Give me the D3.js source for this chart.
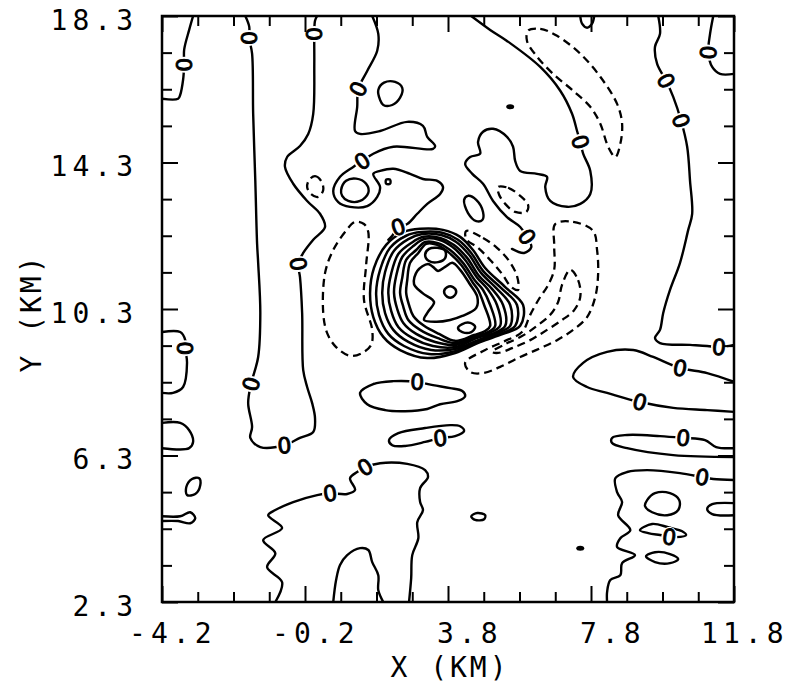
<!DOCTYPE html>
<html lang="en">
<head>
<meta charset="UTF-8">
<title>Contour X-Y</title>
<script src="https://cdn.jsdelivr.net/npm/d3@7/dist/d3.min.js"></script>
<style>
  body { margin: 0; background: #fff; }
  .tick text { font-family: "DejaVu Sans Mono", monospace; font-size: 28px; letter-spacing: 5px; fill: #000; }
  .title { font-family: "DejaVu Sans Mono", monospace; font-size: 28px; letter-spacing: 3px; }
  .zero { font-family: "DejaVu Sans", sans-serif; font-size: 22px; }
</style>
</head>
<body>
<script>
// axis ticks (km)
var xTicks = [-4.2,-3.2,-2.2,-1.2,-0.2,0.8,1.8,2.8,3.8,4.8,5.8,6.8,7.8,8.8,9.8,10.8,11.8];
var yTicks = [2.3,3.3,4.3,5.3,6.3,7.3,8.3,9.3,10.3,11.3,12.3,13.3,14.3,15.3,16.3,17.3,18.3];
var xLabels = [-4.2,-0.2,3.8,7.8,11.8];
var yLabels = [2.3,6.3,10.3,14.3,18.3];

// solid open contours, [x km, y km]
var contourA = [[-3.33,18.3],[-3.44,17.92],[-3.58,17.38],[-3.58,16.97],[-3.61,16.56],[-3.69,16.15],[-3.75,16.04],[-4.2,16.04]];
var contourB = [[-1.87,18.3],[-1.76,18.01],[-1.76,17.70],[-1.68,17.27],[-1.65,15.63],[-1.59,13.80],[-1.54,12.08],[-1.51,11.56],[-1.45,10.19],[-1.51,8.99],[-1.71,8.25],[-1.79,7.73],[-1.68,7.08],[-1.73,6.78],[-1.45,6.53],[-0.78,6.58],[-0.34,6.78],[0.03,6.94],[0.08,7.32],[0.0,7.73],[-0.14,8.17],[-0.25,8.63],[-0.28,10.19],[-0.34,11.17],[-0.39,11.53],[-0.25,11.83],[0.03,12.19],[0.36,12.54],[0.22,12.90],[-0.14,13.25],[-0.53,13.72],[-0.76,14.18],[-0.70,14.45],[-0.34,14.75],[-0.11,15.08],[0.03,15.63],[0.06,16.99],[0.06,17.81],[0.08,18.17],[0.14,18.3]];
var contourC = [[1.68,18.3],[1.85,17.81],[1.82,17.35],[1.54,16.80],[1.29,16.31],[1.26,15.82],[1.20,15.16],[1.34,15.08],[1.90,15.16],[2.66,15.41],[3.10,15.30],[3.22,15.00],[3.44,14.75],[3.38,14.67],[2.27,14.73],[1.71,14.54],[1.40,14.34],[1.15,14.18],[0.78,13.91],[0.59,13.52],[0.73,13.22],[1.06,13.09],[1.54,13.11],[1.82,13.36],[1.90,13.63],[1.71,13.99],[1.90,14.07],[2.27,14.13],[2.74,13.99],[3.10,13.85],[3.50,13.80],[3.66,13.63],[3.58,13.44],[3.22,13.17],[2.94,12.90],[2.66,12.62],[2.41,12.54],[2.24,12.30],[2.13,12.19]];
var contourD = [[4.45,18.3],[4.98,17.92],[5.45,17.62],[6.38,16.91],[6.94,16.26],[7.27,15.63],[7.41,15.16],[7.50,14.86],[7.58,14.54],[7.78,14.07],[7.78,13.44],[7.50,13.17],[7.13,13.09],[6.66,13.25],[6.52,13.63],[6.57,13.91],[6.29,13.99],[5.82,14.07],[5.68,14.34],[5.62,14.73],[5.45,15.00],[5.06,15.22],[4.78,15.14],[4.64,14.86],[4.70,14.54],[4.42,14.45],[4.28,14.26],[4.48,13.99],[4.78,13.72],[5.06,13.25],[5.45,12.81],[5.82,12.54],[6.01,12.27],[6.13,11.99],[5.93,11.83],[5.59,11.94]];
var contourE = [[9.68,18.3],[9.73,17.81],[9.59,17.46],[9.65,16.99],[9.90,16.53],[10.10,16.09],[10.32,15.44],[10.49,14.73],[10.57,13.80],[10.63,12.90],[10.52,12.46],[10.29,11.56],[10.01,10.82],[9.82,10.19],[9.73,9.73],[9.59,9.51],[9.73,9.37],[10.57,9.32],[11.05,9.29],[11.38,9.26],[11.8,9.32]];
var contourF = [[11.22,18.3],[11.13,17.81],[11.08,17.30],[11.19,16.91],[11.41,16.72],[11.8,16.72]];
var contourU = [[7.50,18.3],[7.55,18.09],[7.69,17.98],[7.83,18.09],[7.89,18.3]];
var contourI = [[-1.03,2.3],[-0.84,2.84],[-1.26,3.25],[-1.03,3.63],[-1.37,3.99],[-0.84,4.32],[-1.23,4.67],[-1.03,4.81],[-0.53,5.03],[0.14,5.22],[0.50,5.27],[0.98,5.25],[1.20,5.36],[1.06,5.68],[1.26,5.85],[1.48,5.98],[1.90,6.09],[2.66,6.07],[3.16,5.90],[3.24,5.71],[3.02,5.41],[3.02,5.03],[3.10,4.81],[2.94,4.48],[2.97,4.04],[2.80,3.58],[2.77,2.95],[2.71,2.3]];
var contourJ = [[0.59,2.3],[0.67,2.90],[0.78,3.31],[0.98,3.58],[1.34,3.77],[1.57,3.72],[1.68,3.39],[1.85,3.03],[1.85,2.62],[1.99,2.3]];
var contourL0 = [[-4.2,9.67],[-3.69,9.67],[-3.55,9.45],[-3.55,9.23],[-3.50,8.83],[-3.61,8.17],[-3.89,8.01],[-4.2,8.01]];
var contourL1 = [[-4.2,7.19],[-3.69,7.19],[-3.44,6.99],[-3.33,6.67],[-3.44,6.50],[-4.2,6.50]];
var contourL3 = [[-4.2,4.64],[-3.69,4.64],[-3.41,4.75],[-3.27,4.59],[-3.41,4.45],[-3.75,4.51],[-4.2,4.51]];
var contourM = [[11.8,8.31],[11.05,8.55],[10.29,8.69],[9.54,8.99],[8.98,9.18],[8.25,9.13],[7.58,8.83],[7.30,8.44],[7.69,8.17],[8.25,8.01],[9.17,7.76],[10.10,7.60],[11.05,7.54],[11.8,7.49]];
var contourN = [[11.8,6.50],[11.30,6.53],[10.99,6.72],[10.38,6.78],[9.73,6.83],[8.81,6.86],[8.39,6.78],[8.39,6.64],[8.81,6.50],[10.10,6.31],[11.8,6.26]];
var contourO = [[11.8,5.63],[11.22,5.66],[10.91,5.71],[10.29,5.82],[9.37,5.90],[8.81,5.85],[8.48,5.68],[8.53,5.30],[8.67,5.03],[8.56,4.67],[8.90,4.26],[8.62,4.04],[8.53,3.80],[9.03,3.58],[8.67,3.36],[8.62,3.03],[8.34,2.90],[8.25,2.57],[8.25,2.3]];
var contourP2 = [[11.8,5.00],[11.19,4.97],[11.05,4.84],[11.19,4.70],[11.8,4.67]];

// solid closed contours
var loopC1 = [[1.90,16.01],[1.85,16.28],[2.01,16.48],[2.32,16.50],[2.52,16.34],[2.46,16.07],[2.24,15.87],[1.99,15.87]];
var loopC2 = [[0.81,13.55],[0.95,13.80],[1.23,13.86],[1.51,13.72],[1.57,13.47],[1.34,13.25],[1.01,13.25],[0.84,13.39]];
var loopSq = [[2.07,13.83],[2.18,13.83],[2.18,13.72],[2.07,13.72]];
var loopD1 = [[4.25,13.28],[4.36,13.39],[4.59,13.28],[4.78,12.95],[4.76,12.73],[4.59,12.70],[4.36,12.92]];
var loopG = [[1.34,8.01],[1.71,8.25],[2.27,8.33],[2.94,8.31],[3.38,8.22],[3.86,8.14],[4.20,8.06],[4.28,7.92],[4.08,7.79],[3.58,7.70],[3.22,7.57],[2.60,7.51],[2.04,7.54],[1.54,7.70]];
var loopH = [[2.15,6.72],[2.41,6.91],[3.16,7.05],[3.86,7.13],[4.14,7.10],[4.25,6.97],[4.00,6.83],[3.58,6.78],[3.16,6.67],[2.60,6.56],[2.24,6.58]];
var loopL2 = [[-3.50,5.22],[-3.52,5.44],[-3.36,5.66],[-3.16,5.68],[-3.13,5.49],[-3.27,5.25]];
var loopP1 = [[9.37,5.08],[9.59,5.27],[10.01,5.27],[10.27,5.08],[10.24,4.81],[9.93,4.67],[9.51,4.75],[9.31,4.92]];
var loopP3 = [[9.17,4.26],[9.51,4.43],[9.96,4.34],[10.35,4.23],[10.46,4.13],[10.18,4.07],[9.73,4.13],[9.40,4.18]];
var loopP4 = [[9.34,3.55],[9.59,3.66],[10.01,3.61],[10.24,3.47],[10.01,3.36],[9.59,3.39]];
var loopS1 = [[4.45,4.64],[4.62,4.73],[4.84,4.67],[4.81,4.56],[4.56,4.54]];

// vortex rings, outer to inner
var vortexRings = [
  [[3.02,12.49],[2.55,12.40],[2.07,12.05],[1.73,11.42],[1.62,10.74],[1.71,10.08],[1.99,9.54],[2.46,9.18],[3.22,8.96],[4.00,9.10],[4.70,9.40],[5.34,9.62],[5.82,9.84],[5.90,10.41],[5.40,10.90],[4.84,11.42],[4.50,11.91],[4.14,12.27],[3.66,12.46]],
  [[3.05,12.40],[2.63,12.30],[2.18,11.97],[1.90,11.37],[1.79,10.74],[1.87,10.14],[2.13,9.62],[2.57,9.29],[3.27,9.07],[4.00,9.15],[4.67,9.43],[5.26,9.62],[5.68,9.84],[5.73,10.41],[5.29,10.87],[4.78,11.34],[4.45,11.83],[4.08,12.19],[3.64,12.38]],
  [[3.08,12.35],[2.69,12.21],[2.29,11.89],[2.04,11.31],[1.96,10.74],[2.04,10.19],[2.27,9.73],[2.69,9.40],[3.33,9.18],[4.00,9.21],[4.64,9.45],[5.17,9.64],[5.54,9.84],[5.54,10.41],[5.15,10.87],[4.73,11.28],[4.39,11.78],[4.03,12.13],[3.61,12.32]],
  [[3.11,12.27],[2.77,12.10],[2.41,11.80],[2.21,11.26],[2.13,10.74],[2.21,10.25],[2.41,9.81],[2.80,9.51],[3.38,9.29],[4.00,9.26],[4.62,9.51],[5.09,9.64],[5.40,9.84],[5.34,10.41],[5.03,10.85],[4.67,11.20],[4.34,11.69],[3.97,12.05],[3.58,12.24]],
  [[3.13,12.21],[2.83,12.02],[2.52,11.72],[2.35,11.20],[2.29,10.74],[2.38,10.30],[2.55,9.92],[2.91,9.62],[3.44,9.40],[4.00,9.32],[4.59,9.54],[5.01,9.67],[5.26,9.84],[5.17,10.41],[4.90,10.85],[4.62,11.15],[4.28,11.64],[3.92,12.00],[3.55,12.19]],
  [[3.16,12.13],[2.91,11.91],[2.63,11.64],[2.52,11.15],[2.46,10.74],[2.55,10.36],[2.69,10.00],[3.02,9.73],[3.50,9.51],[4.00,9.37],[4.56,9.56],[4.92,9.67],[5.12,9.84],[4.98,10.41],[4.78,10.82],[4.56,11.07],[4.22,11.56],[3.86,11.91],[3.52,12.10]],
  [[3.19,12.08],[2.97,11.83],[2.74,11.56],[2.66,11.09],[2.63,10.74],[2.71,10.41],[2.83,10.11],[3.13,9.84],[3.55,9.62],[4.00,9.43],[4.53,9.59],[4.84,9.70],[4.98,9.84],[4.81,10.41],[4.64,10.82],[4.50,11.01],[4.17,11.50],[3.80,11.86],[3.50,12.05]],
  [[3.24,11.53],[2.94,11.34],[2.85,10.98],[3.08,10.74],[3.41,10.49],[3.24,10.22],[3.13,10.00],[3.47,9.95],[3.86,10.00],[4.20,10.11],[4.59,10.33],[4.62,10.63],[4.39,11.01],[4.14,11.37],[3.92,11.56],[3.72,11.45],[3.52,11.34],[3.38,11.45]]
];
var vortexCells = [
  [[3.16,11.78],[3.27,11.94],[3.50,11.97],[3.72,11.89],[3.72,11.69],[3.52,11.58],[3.27,11.61]],
  [[3.69,10.77],[3.78,10.90],[3.94,10.90],[4.03,10.77],[3.94,10.63],[3.78,10.63]],
  [[4.08,9.78],[4.20,9.89],[4.42,9.92],[4.56,9.81],[4.45,9.67],[4.20,9.67]]
];

// dashed (negative) closed contours
var dashLeft = [[1.20,12.68],[0.92,12.40],[0.59,11.91],[0.36,11.28],[0.31,10.19],[0.42,9.64],[0.67,9.26],[1.06,9.02],[1.40,9.10],[1.65,9.32],[1.68,9.73],[1.45,10.55],[1.51,11.50],[1.57,12.40],[1.45,12.62]];
var dashBanana = [[6.04,17.90],[6.38,17.95],[6.85,17.76],[7.50,17.27],[8.06,16.64],[8.53,15.90],[8.67,15.36],[8.62,14.81],[8.48,14.45],[8.28,14.73],[8.06,15.36],[7.78,15.82],[7.30,16.26],[6.74,16.72],[6.29,17.19],[6.01,17.62]];
var dashTiny = [[-0.08,13.83],[0.08,13.93],[0.25,13.80],[0.31,13.55],[0.17,13.36],[-0.03,13.44],[-0.14,13.63]];
var dashDrop = [[5.20,13.63],[5.48,13.61],[5.82,13.39],[6.04,13.14],[5.99,12.95],[5.68,12.95],[5.40,13.17],[5.23,13.42]];
var dashOuter = [[6.80,12.62],[7.30,12.68],[7.86,12.43],[7.97,11.91],[8.00,11.28],[7.92,10.63],[7.69,10.08],[7.30,9.73],[6.85,9.45],[6.38,9.23],[5.82,8.99],[5.26,8.72],[4.78,8.55],[4.42,8.58],[4.28,8.83],[4.84,9.18],[5.40,9.43],[5.87,9.67],[6.10,10.14],[6.38,10.63],[6.57,10.90],[6.77,11.37],[6.77,12.05]];
var dashInner = [[7.22,11.37],[7.44,11.09],[7.50,10.63],[7.33,10.27],[6.99,10.00],[6.57,9.73],[6.10,9.45],[5.59,9.23],[5.20,9.10],[5.03,9.13],[5.40,9.34],[5.87,9.56],[6.29,9.84],[6.66,10.14],[6.88,10.49],[6.99,10.96]];
var dashBand = [[4.31,12.43],[4.78,12.24],[5.17,11.97],[5.51,11.61],[5.73,11.20],[5.76,10.82],[5.57,10.90],[5.31,11.26],[4.98,11.64],[4.64,11.97],[4.31,12.21]];

var dots = [[5.54,15.82],[7.50,3.77]];

// "0" contour labels
var zeroLabels = [[-3.58,16.97],[-1.76,17.70],[-1.71,8.25],[-0.78,6.58],[-0.39,11.53],[0.06,17.81],
  [1.29,16.31],[1.40,14.34],[2.41,12.54],[7.50,14.86],[6.01,12.27],[9.90,16.53],[10.32,15.44],
  [11.38,9.26],[11.08,17.30],[-3.55,9.23],[2.94,8.31],[3.58,6.78],[0.50,5.27],[1.48,5.98],
  [10.29,8.69],[9.17,7.76],[10.38,6.78],[10.91,5.71],[9.99,4.08]];

var width = 791, height = 687;
var x = d3.scaleLinear().domain([-4.2, 11.8]).range([162, 734]);
var y = d3.scaleLinear().domain([2.3, 18.3]).range([602, 16]);

var svg = d3.select('body').append('svg')
  .attr('width', width).attr('height', height);

svg.append('clipPath').attr('id', 'plot')
  .append('rect').attr('x', 162).attr('y', 16).attr('width', 572).attr('height', 586);

var openLine = d3.line().x(function(d) { return x(d[0]); }).y(function(d) { return y(d[1]); })
  .curve(d3.curveCatmullRom.alpha(0.5));
var closedLine = d3.line().x(function(d) { return x(d[0]); }).y(function(d) { return y(d[1]); })
  .curve(d3.curveCatmullRomClosed.alpha(0.5));

var solidOpen = [contourA, contourB, contourC, contourD, contourE, contourF, contourU, contourI, contourJ,
  contourL0, contourL1, contourL3, contourM, contourN, contourO, contourP2];
var solidClosed = [loopC1, loopC2, loopSq, loopD1, loopG, loopH, loopL2, loopP1, loopP3, loopP4, loopS1];
var dashed = [dashLeft, dashBanana, dashTiny, dashDrop, dashOuter, dashInner, dashBand];

var g = svg.append('g').attr('clip-path', 'url(#plot)')
  .attr('fill', 'none').attr('stroke', '#000').attr('stroke-linejoin', 'round').attr('stroke-linecap', 'round');

g.selectAll('path.open').data(solidOpen).enter().append('path')
  .attr('class', 'open').attr('stroke-width', 2.4).attr('d', openLine);
g.selectAll('path.loop').data(solidClosed).enter().append('path')
  .attr('class', 'loop').attr('stroke-width', 2.4).attr('d', closedLine);
g.selectAll('path.ring').data(vortexRings.concat(vortexCells)).enter().append('path')
  .attr('class', 'ring').attr('stroke-width', 2.5).attr('d', closedLine);
g.selectAll('path.neg').data(dashed).enter().append('path')
  .attr('class', 'neg').attr('stroke-width', 2.3).attr('stroke-dasharray', '8,5')
  .attr('stroke-linecap', 'butt').attr('d', closedLine);

g.selectAll('ellipse.dot').data(dots).enter().append('ellipse')
  .attr('class', 'dot').attr('fill', '#000').attr('stroke', 'none')
  .attr('cx', function(d) { return x(d[0]); }).attr('cy', function(d) { return y(d[1]); })
  .attr('rx', 4).attr('ry', 2.5);

// label angle taken from the nearest solid contour segment
var allSolid = solidOpen.concat(solidClosed);
function labelAngle(p) {
  var px = x(p[0]), py = y(p[1]), best = Infinity, ang = 0;
  allSolid.forEach(function(line) {
    for (var i = 0; i < line.length - 1; i++) {
      var ax = x(line[i][0]), ay = y(line[i][1]), bx = x(line[i+1][0]), by = y(line[i+1][1]);
      var dx = bx - ax, dy = by - ay, l2 = dx*dx + dy*dy || 1;
      var t = Math.max(0, Math.min(1, ((px-ax)*dx + (py-ay)*dy) / l2));
      var ex = ax + t*dx - px, ey = ay + t*dy - py, dd = ex*ex + ey*ey;
      if (dd < best) { best = dd; ang = Math.atan2(dy, dx) * 180 / Math.PI; }
    }
  });
  if (ang > 90) ang -= 180;
  if (ang <= -90) ang += 180;
  return ang;
}

var lab = svg.append('g').selectAll('g').data(zeroLabels).enter().append('g')
  .attr('transform', function(d) {
    return 'translate(' + x(d[0]) + ',' + y(d[1]) + ') rotate(' + labelAngle(d) + ')';
  });
lab.append('ellipse').attr('rx', 8).attr('ry', 10).attr('fill', '#fff');
lab.append('text').attr('class', 'zero').attr('text-anchor', 'middle').attr('dy', '0.36em')
  .attr('stroke', '#000').attr('stroke-width', 0.9).text('0');

// axes with inward ticks
function isMajor(list, d) { return list.some(function(m) { return Math.abs(m - d) < 1e-6; }); }

var axBottom = svg.append('g').attr('transform', 'translate(0,602)')
  .call(d3.axisBottom(x).tickValues(xTicks).tickSize(-10)
    .tickFormat(function(d) { return isMajor(xLabels, d) ? d.toFixed(1) : ''; }));
var axTop = svg.append('g').attr('transform', 'translate(0,16)')
  .call(d3.axisTop(x).tickValues(xTicks).tickSize(-10).tickFormat(''));
var axLeft = svg.append('g').attr('transform', 'translate(162,0)')
  .call(d3.axisLeft(y).tickValues(yTicks).tickSize(-10)
    .tickFormat(function(d) { return isMajor(yLabels, d) ? d.toFixed(1) : ''; }));
var axRight = svg.append('g').attr('transform', 'translate(734,0)')
  .call(d3.axisRight(y).tickValues(yTicks).tickSize(-10).tickFormat(''));

[axBottom, axTop, axLeft, axRight].forEach(function(a) {
  a.select('.domain').remove();
  a.selectAll('.tick line').attr('stroke', '#000').attr('stroke-width', 2);
});
axBottom.selectAll('.tick line').filter(function(d) { return isMajor(xLabels, d); }).attr('y2', -16);
axTop.selectAll('.tick line').filter(function(d) { return isMajor(xLabels, d); }).attr('y2', 16);
axLeft.selectAll('.tick line').filter(function(d) { return isMajor(yLabels, d); }).attr('x2', 16);
axRight.selectAll('.tick line').filter(function(d) { return isMajor(yLabels, d); }).attr('x2', -16);

axBottom.selectAll('.tick text').attr('text-anchor', 'end').attr('x', 54).attr('y', 41).attr('dy', 0);
axLeft.selectAll('.tick text').attr('text-anchor', 'end').attr('x', -24).attr('dy', 0).attr('y', 13);

svg.append('rect').attr('x', 162).attr('y', 16).attr('width', 572).attr('height', 586)
  .attr('fill', 'none').attr('stroke', '#000').attr('stroke-width', 2.5);

svg.append('text').attr('class', 'title').attr('x', 450).attr('y', 677)
  .attr('text-anchor', 'middle').text('X (KM)');
svg.append('text').attr('class', 'title').attr('transform', 'translate(41,313) rotate(-90)')
  .attr('text-anchor', 'middle').text('Y (KM)');
</script>
</body>
</html>
